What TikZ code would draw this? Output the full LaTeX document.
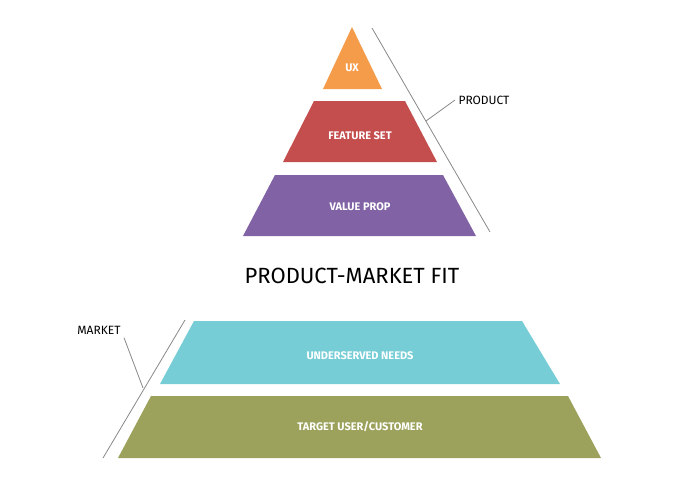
\documentclass[tikz,border=0pt]{standalone}
\usepackage{fontspec}
\setmainfont{Fira Sans}
\definecolor{cux}{HTML}{F59C4B}
\definecolor{cfeat}{HTML}{C44E4E}
\definecolor{cval}{HTML}{8062A5}
\definecolor{cneed}{HTML}{76CDD6}
\definecolor{ctarg}{HTML}{9CA25B}
\definecolor{cline}{HTML}{888888}
\begin{document}
\begin{tikzpicture}[x=1pt,y=-1pt,
  lbl/.style={text=white,font=\bfseries\fontsize{11}{13}\selectfont},
  side/.style={font=\fontsize{12}{14}\selectfont},
  guide/.style={draw=cline,line width=0.8pt}]
\useasboundingbox (0,0) rectangle (678,479);
\fill[cux] (352,27) -- (382,89) -- (323,89) -- cycle;
\fill[cfeat] (314,101) -- (405,101) -- (437,162) -- (283,162) -- cycle;
\fill[cval] (275,175) -- (443,175) -- (476,236) -- (243,236) -- cycle;
\fill[cneed] (194,321) -- (522,321) -- (560,384) -- (160,384) -- cycle;
\fill[ctarg] (151,396) -- (568,396) -- (601,458) -- (118,458) -- cycle;
\node[lbl] (ux) at (352,68) {UX};
\node[lbl] (feat) at (360,136) {FEATURE SET};
\node[lbl] (val) at (360,207) {VALUE PROP};
\node[lbl] (need) at (360,356) {UNDERSERVED NEEDS};
\node[lbl] (targ) at (360,427) {TARGET USER/CUSTOMER};
\node[font=\fontsize{22}{26}\selectfont] (title) at (352,276) {PRODUCT-MARKET FIT};
\node[side,anchor=west] (prod) at (455,100) {PRODUCT};
\node[side,anchor=east] (mkt) at (124,330) {MARKET};
\coordinate (p1) at (372,28); \coordinate (p2) at (490,232);
\coordinate (pm) at (426,121);
\draw[guide] (p1) -- (p2);
\draw[guide] (pm) -- (prod.west);
\coordinate (m1) at (185,320); \coordinate (m2) at (103,458);
\coordinate (mm) at (143,388);
\draw[guide] (m1) -- (m2);
\draw[guide] (mm) -- (mkt.south east);
\end{tikzpicture}
\end{document}
